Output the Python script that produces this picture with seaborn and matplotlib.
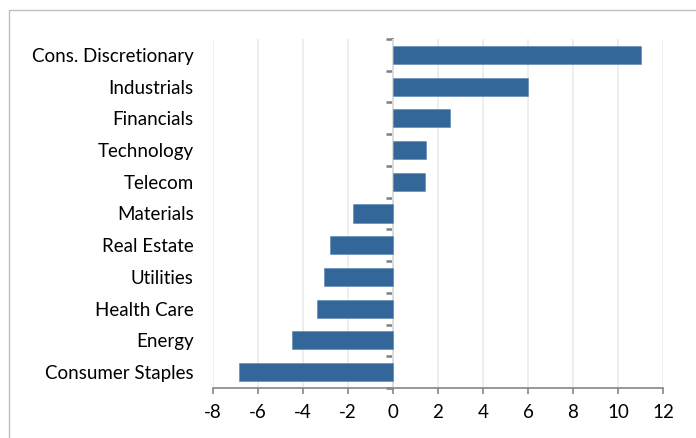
import matplotlib
matplotlib.use("Agg")
import matplotlib.pyplot as plt
import seaborn as sns
import pandas as pd
from matplotlib.patches import Rectangle

sectors = ["Cons. Discretionary", "Industrials", "Financials", "Technology", "Telecom",
           "Materials", "Real Estate", "Utilities", "Health Care", "Energy", "Consumer Staples"]
values = [11.0, 6.0, 2.55, 1.45, 1.4, -1.8, -2.8, -3.05, -3.4, -4.5, -6.85]
xticks = [-8, -6, -4, -2, 0, 2, 4, 6, 8, 10, 12]

df = pd.DataFrame({"sector": sectors, "value": values})

sns.set_style("white")
plt.rcParams["font.family"] = ["Lato", "DejaVu Sans"]

fig = plt.figure(figsize=(6.96, 4.38), dpi=100)
ax = fig.add_axes([213/696, 1-388/438, (663-213)/696, (388-39)/438])

sns.barplot(data=df, x="value", y="sector", orient="h", color="#336699",
            saturation=1, width=0.57, ax=ax, edgecolor="#5a86b3", linewidth=0.4)

ax.set_xlim(-8, 12)
ax.set_ylim(10.5, -0.5)
ax.set_xticks(xticks)
ax.set_xticklabels([str(t) for t in xticks], fontsize=13.5, color="#000000")
ax.set_xlabel("")
ax.set_ylabel("")
ax.grid(axis="x", color="#ebebeb", linewidth=1.2)
ax.set_axisbelow(True)

for s in ["top", "right", "left"]:
    ax.spines[s].set_visible(False)
ax.spines["bottom"].set_color("#868686")
ax.spines["bottom"].set_linewidth(1.2)
ax.tick_params(axis="x", direction="out", length=4.5, width=1.2, color="#868686", pad=7,
               bottom=True)
ax.tick_params(axis="y", length=0, pad=14, labelsize=13.5, labelcolor="#000000")

# vertical axis line at zero with boundary ticks
sec = ax.secondary_yaxis(8/20)
sec.set_yticks([i - 0.5 for i in range(len(sectors) + 1)])
sec.set_yticklabels([])
sec.spines["left"].set_color("#868686")
sec.spines["left"].set_linewidth(1.2)
sec.tick_params(axis="y", direction="out", length=5, width=1.8, color="#7f7f7f")

fig.patches.append(Rectangle((8.5/696, -0.1), 1.2, 1 - 9.5/438 + 0.1,
                             transform=fig.transFigure, fill=False,
                             edgecolor="#bfbfbf", linewidth=1.0))

fig.savefig("out.png", dpi=100)
